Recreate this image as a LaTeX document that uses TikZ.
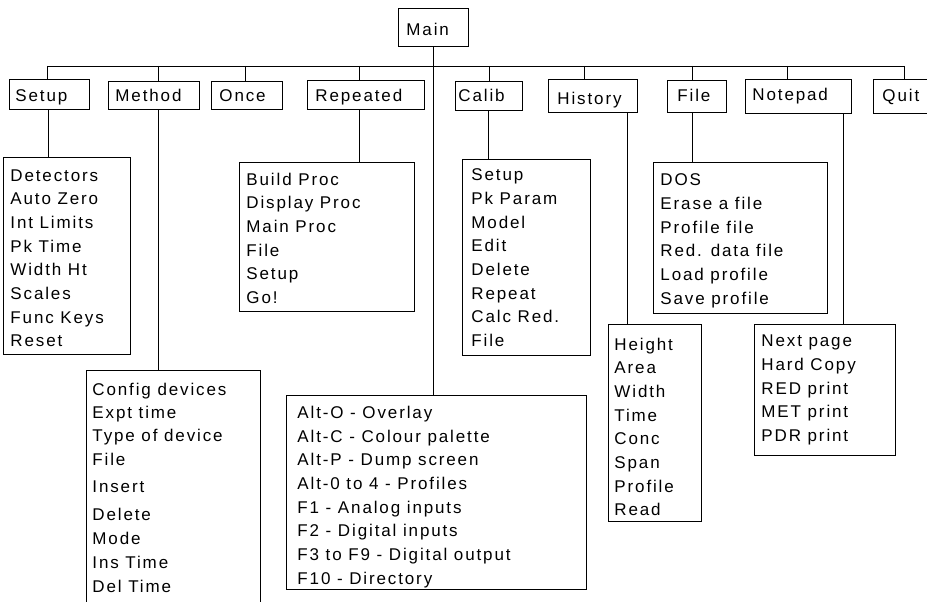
\documentclass[tikz,border=0pt]{standalone}
\usepackage{fontspec}
\setmainfont{Liberation Sans}[LetterSpace=11]

% rectangle given by its two corners (x1,y1) and (x2,y2), y growing downwards
\newcommand\menubox[5]{%
  \node[box, minimum width={#4-#2}, minimum height={#5-#3}] (#1) at (#2,#3) {};}
% a column of menu entries, one per line, starting at a first baseline
\newcommand\menulist[4]{%
  \foreach \t [count=\i] in {#4}{\node[lbl] (#1-\i) at (#2,{#3+(\i-1)*23.7}) {\t};}}

\begin{document}
\begin{tikzpicture}[x=1pt, y=-1pt, line width=0.9pt,
  box/.style={draw, inner sep=0pt, anchor=north west},
  lbl/.style={anchor=base west, inner sep=0pt, font=\fontsize{17}{20}\selectfont}]
\clip (0,0) rectangle (927,602);

% ---- top level menu ----
\menubox{main}{398}{8}{468}{46}
\node[lbl] (mainT) at (406,36) {Main};

\menubox{setup}{9}{79}{89}{109}
\menubox{method}{108}{81}{199}{109}
\menubox{once}{211}{81}{282}{109}
\menubox{repeated}{307}{80}{424}{109}
\menubox{calib}{455}{81}{522}{110}
\menubox{history}{548}{79}{637}{112}
\menubox{file}{667}{80}{726}{112}
\menubox{notepad}{745}{79}{851}{113}
\menubox{quit}{873}{79}{945}{113}

\node[lbl] (setupT) at (15,102) {Setup};
\node[lbl] (methodT) at (115,102) {Method};
\node[lbl] (onceT) at (219,102) {Once};
\node[lbl] (repeatedT) at (315,102) {Repeated};
\node[lbl] (calibT) at (458,102) {Calib};
\node[lbl] (historyT) at (557,104) {History};
\node[lbl] (fileT) at (677,102) {File};
\node[lbl] (notepadT) at (752,101) {Notepad};
\node[lbl] (quitT) at (882,102) {Quit};

% ---- sub menus ----
\menubox{setupL}{3}{157}{130}{354}
\menulist{setupL}{10}{181}{Detectors,Auto Zero,Int Limits,Pk Time,Width Ht,Scales,Func Keys,Reset}

\menubox{methodL}{86}{370}{260}{640}
\foreach \y/\t [count=\i] in {395/Config devices,418.3/Expt time,441.7/Type of device,465/File,
  492.3/Insert,520.7/Delete,544.3/Mode,568.3/Ins Time,592.3/Del Time}
  {\node[lbl] (methodL-\i) at (92,\y) {\t};}

\menubox{repeatedL}{239}{162}{414}{311}
\menulist{repeatedL}{246}{185}{Build Proc,Display Proc,Main Proc,File,Setup,Go!}

\menubox{mainL}{286}{395}{586}{589}
\menulist{mainL}{297}{418.3}{Alt-O - Overlay,Alt-C - Colour palette,Alt-P - Dump screen,
  Alt-0 to 4 - Profiles,F1 - Analog inputs,F2 - Digital inputs,F3 to F9 - Digital output,F10 - Directory}

\menubox{calibL}{462}{159}{590}{355}
\menulist{calibL}{471}{180.7}{Setup,Pk Param,Model,Edit,Delete,Repeat,Calc Red.,File}

\menubox{historyL}{608}{324}{701}{521}
\menulist{historyL}{614}{350}{Height,Area,Width,Time,Conc,Span,Profile,Read}

\menubox{fileL}{653}{162}{827}{313}
\menulist{fileL}{660}{185.7}{DOS,Erase a file,Profile file,Red. data file,Load profile,Save profile}

\menubox{notepadL}{754}{324}{895}{455}
\menulist{notepadL}{761}{346.7}{Next page,Hard Copy,RED print,MET print,PDR print}

% ---- connectors ----
\coordinate (busL) at (47,66);
\coordinate (busR) at (904,66);
\draw (busL) -- (busR);
\foreach \b/\x in {setup/47,method/158,once/245,repeated/359,calib/489,history/584,file/692,notepad/787,quit/904}
  {\coordinate (tick-\b) at (\x,66); \draw (tick-\b) -- (tick-\b |- \b.north);}

\draw (main.south) -- (main.south |- mainL.north);
\coordinate (dropSetup) at (48,109);
\draw (dropSetup) -- (dropSetup |- setupL.north);
\coordinate (dropMethod) at (158,109);
\draw (dropMethod) -- (dropMethod |- methodL.north);
\coordinate (dropRepeated) at (359,109);
\draw (dropRepeated) -- (dropRepeated |- repeatedL.north);
\coordinate (dropCalib) at (488,110);
\draw (dropCalib) -- (dropCalib |- calibL.north);
\coordinate (dropHistory) at (627,112);
\draw (dropHistory) -- (dropHistory |- historyL.north);
\coordinate (dropFile) at (692,112);
\draw (dropFile) -- (dropFile |- fileL.north);
\coordinate (dropNotepad) at (843,113);
\draw (dropNotepad) -- (dropNotepad |- notepadL.north);
\end{tikzpicture}
\end{document}
